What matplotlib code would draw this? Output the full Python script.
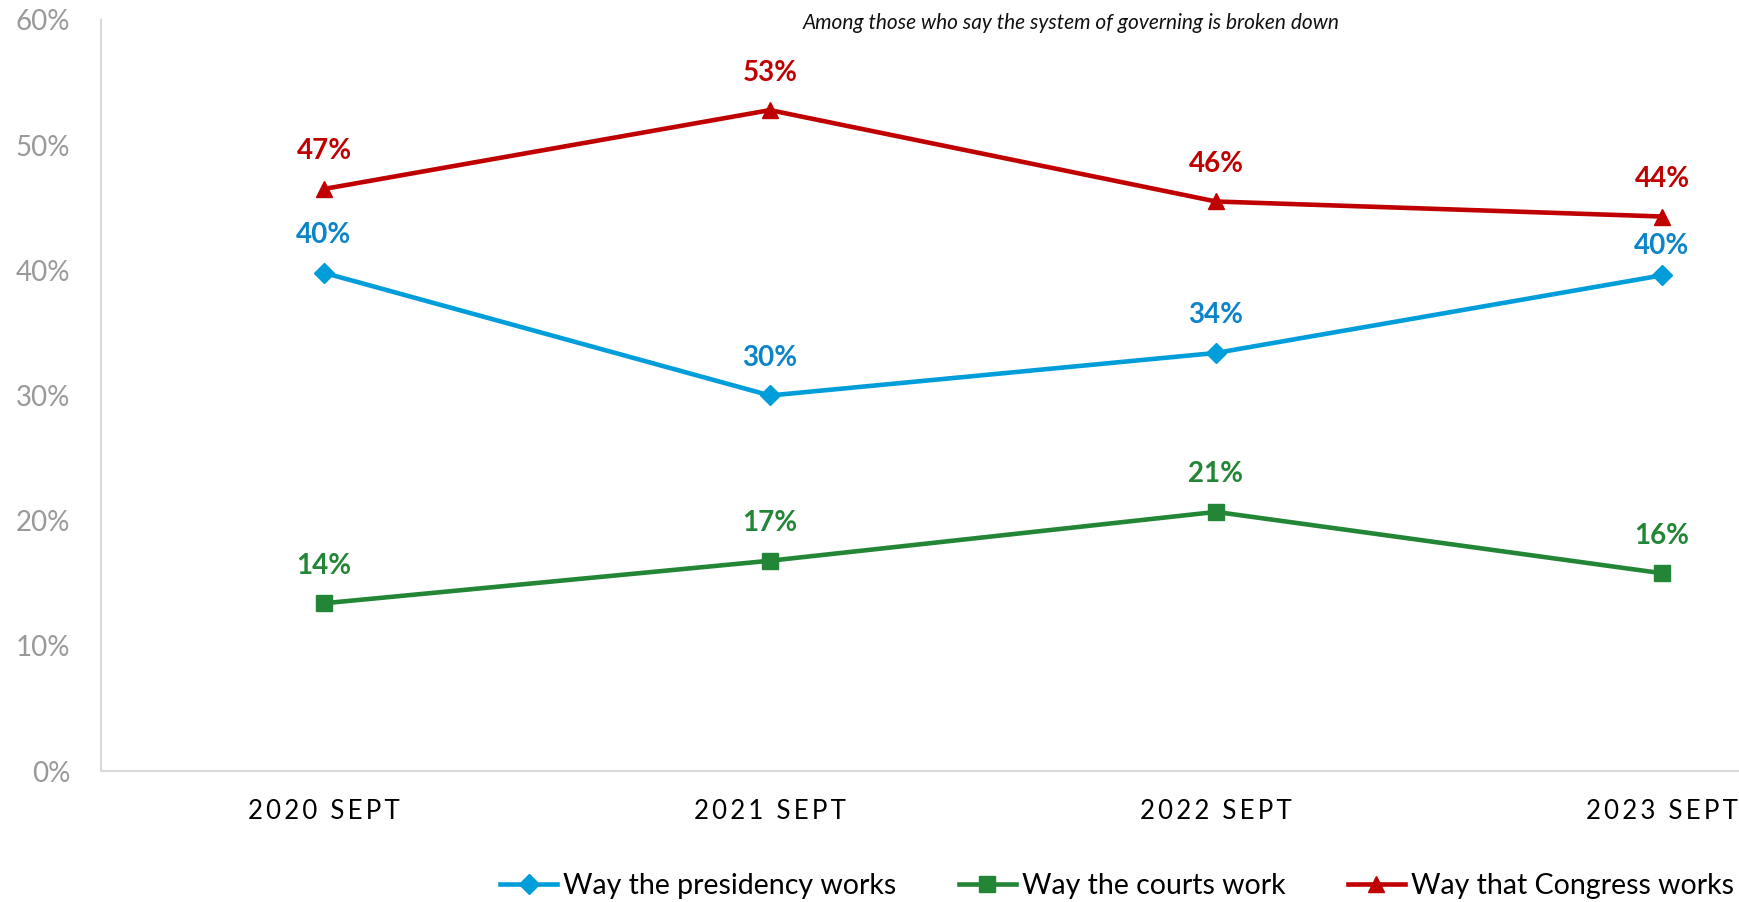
import matplotlib
matplotlib.use("Agg")
from matplotlib import pyplot as plt
from matplotlib.ticker import PercentFormatter

plt.rcParams['font.family'] = ['Lato', 'DejaVu Sans']

# Data
periods = ["2020 SEPT", "2021 SEPT", "2022 SEPT", "2023 SEPT"]
presidency = [39.8, 30.0, 33.4, 39.6]
courts = [13.4, 16.8, 20.7, 15.8]
congress = [46.5, 52.8, 45.5, 44.3]
presidency_labels = ["40%", "30%", "34%", "40%"]
courts_labels = ["14%", "17%", "21%", "16%"]
congress_labels = ["47%", "53%", "46%", "44%"]

W, H = 1740, 902
fig = plt.figure(figsize=(W / 100, H / 100), dpi=100)
# chart area runs past the right edge, as in the source image
ax = fig.add_axes([101 / W, 1 - 771 / H, 1784 / W, (771 - 20) / H])

x = list(range(len(periods)))
series = [
    ("Way the presidency works", presidency, presidency_labels, "#009DDB", "#0B84C9", "D", 10.5),
    ("Way the courts work", courts, courts_labels, "#238636", "#238636", "s", 11),
    ("Way that Congress works", congress, congress_labels, "#C00000", "#C00000", "^", 12),
]
handles = []
for name, vals, labels, col, lcol, mk, ms in series:
    h, = ax.plot(x, vals, color=col, lw=3.3, marker=mk, ms=ms, label=name,
                 solid_joinstyle='round', clip_on=False)
    handles.append(h)
    for i, (xi, v, t) in enumerate(zip(x, vals, labels)):
        dy = 27
        # last presidency label sits lower so it clears the Congress line
        if name.startswith("Way the presidency") and i == len(x) - 1:
            dy = 21
        ax.annotate(t, (xi, v), xytext=(0, dy), textcoords='offset points',
                    ha='center', va='center', color=lcol, fontsize=20,
                    fontweight='bold')

ax.set_xlim(-0.5, 3.5)
ax.set_ylim(0, 60)
ax.set_yticks(range(0, 61, 10))
ax.yaxis.set_major_formatter(PercentFormatter(decimals=0))
ax.set_xticks(x)
ax.set_xticklabels(["\u2009".join(p) for p in periods])
for lab in ax.get_xticklabels():
    lab.set_fontsize(18.5)
    lab.set_color("#000000")
ax.tick_params(axis='x', length=0, pad=20)
ax.tick_params(axis='y', length=0, pad=22, labelsize=20, labelcolor="#999999")

for s in ["top", "right"]:
    ax.spines[s].set_visible(False)
for s in ["left", "bottom"]:
    ax.spines[s].set_color("#D9D9D9")
    ax.spines[s].set_linewidth(1.5)

fig.text(965 * 1740 / 1568 / W, 1 - 23 / H,
         "Among those who say the system of governing is broken down",
         ha='center', va='center', fontsize=15, style='italic', color="#111111")

fig.legend(handles=handles, loc='center', bbox_to_anchor=(1117 / W, 1 - 886 / H),
           ncol=3, frameon=False, fontsize=20.5, handlelength=2.0,
           columnspacing=2.2, handletextpad=0.2, markerscale=1.0)

fig.savefig("out.png", dpi=100)
